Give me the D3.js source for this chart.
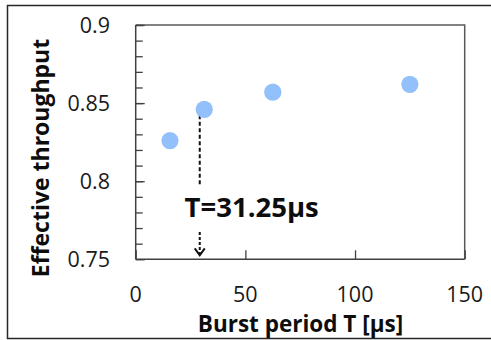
<!DOCTYPE html>
<html lang="en">
<head>
<meta charset="UTF-8">
<script src="https://d3js.org/d3.v7.min.js"></script>
<style>
    body { margin: 0; background: #fff; }
    svg { display: block; font-family: 'Open Sans', 'Noto Sans', sans-serif; }
</style>
</head>
<body>
<svg id="chart" width="491" height="340"></svg>
<script>
// ---------- data ----------
const burstPeriods = [15.625, 31.25, 62.5, 125];
const throughput = [0.826, 0.846, 0.857, 0.862];

const xTicks = [0, 50, 100, 150];
const yTicks = [0.75, 0.8, 0.85, 0.9];
const yMinorTicks = d3.range(0.76, 0.9, 0.01);

// annotation: dashed marker near T = 31.25
const markerX = 29.2;
const markerDash = [0.8423, 0.7975];
const markerArrow = [0.7675, 0.7525];
const markerLabel = "T=31.25\u00b5s";

// ---------- layout ----------
const svg = d3.select("#chart");
const plot = { left: 135.7, right: 464.7, top: 25, bottom: 259.3 };

const x = d3.scaleLinear().domain([0, 150]).range([plot.left, plot.right]);
const y = d3.scaleLinear().domain([0.75, 0.9]).range([plot.bottom, plot.top]);

// outer frame
svg.append("rect")
    .attr("x", 7.5).attr("y", 5.5)
    .attr("width", 520).attr("height", 333)
    .attr("fill", "none").attr("stroke", "#262626").attr("stroke-width", 1.5);

// plot frame (top / right)
svg.append("path")
    .attr("d", `M${plot.left},${plot.top}H${plot.right}V${plot.bottom}`)
    .attr("fill", "none").attr("stroke", "#595959").attr("stroke-width", 1.5);

// y axis: major + minor ticks pointing inward
const yAxis = svg.append("g").attr("transform", `translate(${plot.left},0)`);
yAxis.call(d3.axisRight(y).tickValues(yMinorTicks).tickSize(7).tickFormat(""))
    .call(g => g.select(".domain").remove());
yAxis.append("g").call(d3.axisRight(y).tickValues(yTicks).tickSize(9).tickFormat(""))
    .call(g => g.select(".domain").remove());
yAxis.selectAll("line").attr("stroke", "#404040").attr("stroke-width", 1.3);
yAxis.append("line")
    .attr("y1", plot.top).attr("y2", plot.bottom)
    .attr("stroke", "#404040").attr("stroke-width", 1.5);

svg.append("g").selectAll("text").data(yTicks).join("text")
    .attr("x", 110).attr("y", d => y(d))
    .attr("dy", "0.36em")
    .attr("text-anchor", "end")
    .attr("font-size", 21.5)
    .attr("fill", "#1a1a1a")
    .text(d => d3.format("")(+d.toFixed(2)));

// x axis: ticks pointing inward
const xAxis = svg.append("g").attr("transform", `translate(0,${plot.bottom})`);
xAxis.call(d3.axisTop(x).tickValues(xTicks).tickSize(9).tickFormat(""))
    .call(g => g.select(".domain").remove());
xAxis.selectAll("line").attr("stroke", "#404040").attr("stroke-width", 1.3);
xAxis.append("line")
    .attr("x1", plot.left).attr("x2", plot.right)
    .attr("stroke", "#404040").attr("stroke-width", 1.5);

svg.append("g").selectAll("text").data(xTicks).join("text")
    .attr("x", d => x(d)).attr("y", 301.5)
    .attr("text-anchor", "middle")
    .attr("font-size", 21.5)
    .attr("fill", "#1a1a1a")
    .text(d => d);

// axis titles
svg.append("text")
    .attr("x", 300.5).attr("y", 332)
    .attr("text-anchor", "middle")
    .attr("font-size", 22.5).attr("font-weight", 700)
    .attr("fill", "#0d0d0d")
    .text("Burst period T [\u00b5s]");

svg.append("text")
    .attr("transform", "translate(48.5,158) rotate(-90)")
    .attr("text-anchor", "middle")
    .attr("font-size", 23).attr("font-weight", 700)
    .attr("fill", "#0d0d0d")
    .text("Effective throughput");

// annotation
svg.append("line")
    .attr("x1", x(markerX)).attr("x2", x(markerX))
    .attr("y1", y(markerDash[0])).attr("y2", y(markerDash[1]))
    .attr("stroke", "#111").attr("stroke-width", 2)
    .attr("stroke-dasharray", "4,2.5");

svg.append("line")
    .attr("x1", x(markerX)).attr("x2", x(markerX))
    .attr("y1", y(markerArrow[0])).attr("y2", y(markerArrow[1]) - 1)
    .attr("stroke", "#111").attr("stroke-width", 2)
    .attr("stroke-dasharray", "3,2");

const tipY = y(markerArrow[1]);
svg.append("path")
    .attr("d", `M${x(markerX) - 5},${tipY - 7}L${x(markerX)},${tipY}L${x(markerX) + 5},${tipY - 7}`)
    .attr("fill", "none").attr("stroke", "#111").attr("stroke-width", 2);

svg.append("text")
    .attr("x", 251.7).attr("y", 217.3)
    .attr("text-anchor", "middle")
    .attr("font-size", 27.5).attr("font-weight", 700)
    .attr("fill", "#0d0d0d")
    .text(markerLabel);

// points
svg.append("g").selectAll("circle").data(burstPeriods).join("circle")
    .attr("cx", d => x(d))
    .attr("cy", (d, i) => y(throughput[i]))
    .attr("r", 8.6)
    .attr("fill", "#91c0fa");
</script>
</body>
</html>
